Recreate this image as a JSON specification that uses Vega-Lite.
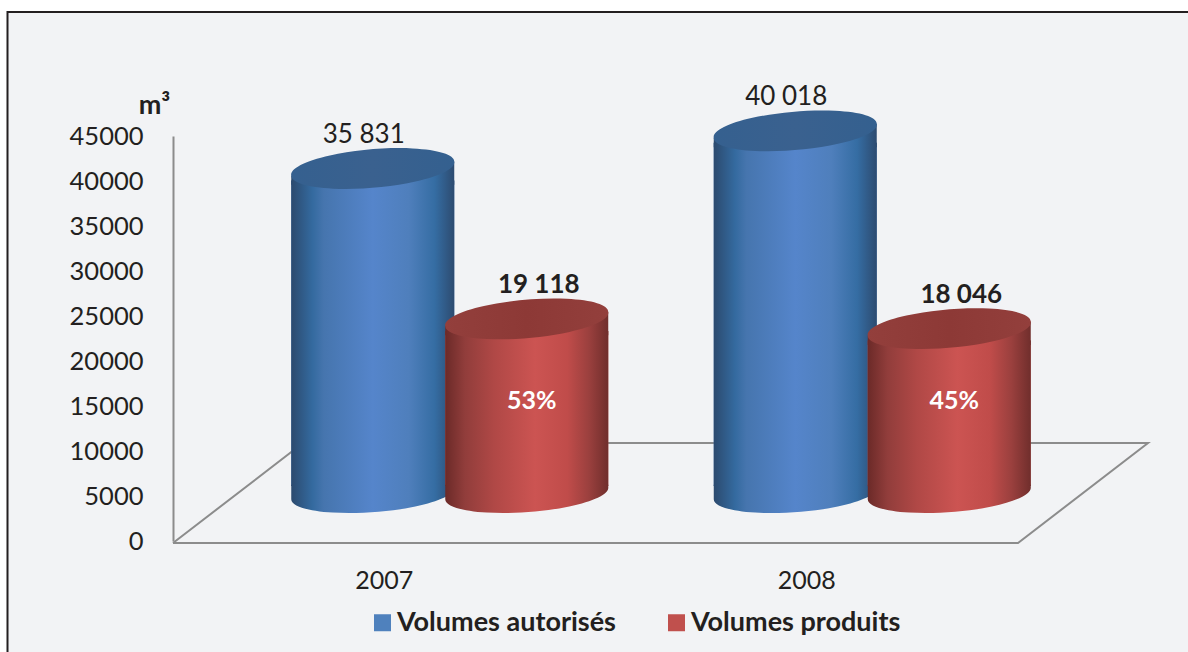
{
"$schema":"https://vega.github.io/schema/vega-lite/v6.json",
"width":845,"height":405,
"autosize":{"type":"none"},
"padding":{"left":173,"top":136,"right":170,"bottom":111},
"background":"#ffffff",
"config":{"font":"Lato","view":{"stroke":null}},
"datasets":{
 "rows":[
  {"year":"2007","series":"Volumes autorisés","value":35831,"label":"35 831"},
  {"year":"2007","series":"Volumes produits","value":19118,"label":"19 118","pct":"53%"},
  {"year":"2008","series":"Volumes autorisés","value":40018,"label":"40 018"},
  {"year":"2008","series":"Volumes produits","value":18046,"label":"18 046","pct":"45%"}
 ],
 "floor":[
  {"fx":0,"fy":-220,"o":1},{"fx":130,"fy":10880,"o":2},{"fx":975,"fy":10880,"o":3},{"fx":845,"fy":-220,"o":4},{"fx":0,"fy":-220,"o":5}
 ]
},
"layer":[
 {"layer":[
  {"data":{"values":[{"k":"panel"}]},
   "mark":{"type":"rect","fill":"#f2f3f5","stroke":"#231f20","strokeWidth":2},
   "encoding":{
    "x":{"datum":-165.5,"type":"quantitative","scale":{"domain":[0,845]},"axis":null},
    "x2":{"datum":1200},
    "y":{"datum":58780,"type":"quantitative","scale":{"domain":[0,45000],"nice":false},"title":"m³"},
    "y2":{"datum":-20000}}},
  {"data":{"name":"floor"},
   "mark":{"type":"line","stroke":"#8c8c8c","strokeWidth":2},
   "encoding":{
    "x":{"field":"fx","type":"quantitative","scale":{"domain":[0,845]},"axis":null},
    "y":{"field":"fy","type":"quantitative","scale":{"domain":[0,45000],"nice":false},"title":"m³"},
    "order":{"field":"o"}}}
 ]},
 {"data":{"name":"rows"},
  "encoding":{
   "x":{"field":"year","type":"nominal","scale":{"paddingInner":0,"paddingOuter":0},
     "axis":{"orient":"bottom","zindex":1,"title":null,"domain":false,"ticks":false,"labelAngle":0,"labelFontSize":25,"labelColor":"#231f20","labelPadding":27,"grid":false}},
   "y":{"field":"value","type":"quantitative","scale":{"domain":[0,45000],"nice":false},
     "axis":{"zindex":1,"title":"m³","titleAngle":0,"titleFontSize":27,"titleFontWeight":"bold","titleColor":"#231f20","titleX":-19,"titleY":-17,"titleAlign":"center","values":[0,5000,10000,15000,20000,25000,30000,35000,40000,45000],"format":"d","grid":false,"ticks":false,"domainColor":"#8c8c8c","domainWidth":2,"labelFontSize":25.5,"labelColor":"#231f20","labelPadding":30}}
  },
  "layer":[
   {"transform":[{"filter":"datum.series === 'Volumes autorisés'"}],
    "layer":[
     {"mark":{"type":"bar","width":163,"xOffset":-11.5,"yOffset":-38},
      "encoding":{"y2":{"datum":6110},"color":{"field":"series","type":"nominal","scale":{"domain":["Volumes autorisés","Volumes produits"],"range":["#4f81bd","#c0504d"]},
        "legend":{"title":null,"orient":"none","direction":"horizontal","columns":2,"legendX":196,"legendY":473,"symbolType":"square","symbolSize":289,"symbolStrokeWidth":0,"labelFontSize":27,"labelFontWeight":"bold","labelColor":"#231f20","labelOffset":1,"columnPadding":47,"labelLimit":400}}}},
     {"mark":{"type":"bar","width":163,"xOffset":-11.5,"yOffset":-38,
       "fill":{"gradient":"linear","x1":0,"x2":1,"y1":0,"y2":0,"stops":[{"offset":0,"color":"#2c4a6e"},{"offset":0.13,"color":"#346a9f"},{"offset":0.2,"color":"#4675ae"},{"offset":0.5,"color":"#5585cb"},{"offset":0.72,"color":"#4f7fbc"},{"offset":0.88,"color":"#356da3"},{"offset":1,"color":"#2d4b70"}]}},
      "encoding":{"y2":{"datum":6110}}},
     {"mark":{"type":"point","filled":true,"opacity":1,"size":26569,"xOffset":-11.5,"yOffset":-48,
       "shape":"M-1,-0.1 L1,-0.1 L1,-0.074 A1.003,0.23,-4.23,1,1,-1,0.074 Z",
       "fill":{"gradient":"linear","x1":0,"x2":1,"y1":0,"y2":0,"stops":[{"offset":0,"color":"#2c4a6e"},{"offset":0.13,"color":"#346a9f"},{"offset":0.2,"color":"#4675ae"},{"offset":0.5,"color":"#5585cb"},{"offset":0.72,"color":"#4f7fbc"},{"offset":0.88,"color":"#356da3"},{"offset":1,"color":"#2d4b70"}]}},
      "encoding":{"y":{"datum":0,"type":"quantitative"}}},
     {"mark":{"type":"point","filled":true,"opacity":1,"size":26569,"xOffset":-11.5,"yOffset":-50,
       "shape":"M-1,0.086 L1,-0.086 L1,0.2 L-1,0.2 Z",
       "fill":{"gradient":"linear","x1":0,"x2":1,"y1":0,"y2":0,"stops":[{"offset":0,"color":"#2c4a6e"},{"offset":0.13,"color":"#346a9f"},{"offset":0.2,"color":"#4675ae"},{"offset":0.5,"color":"#5585cb"},{"offset":0.72,"color":"#4f7fbc"},{"offset":0.88,"color":"#356da3"},{"offset":1,"color":"#2d4b70"}]}}},
     {"mark":{"type":"point","filled":true,"opacity":1,"size":26569,"xOffset":-11.5,"yOffset":-50,
       "shape":"M-1,0.086 A1.004,0.23,-4.9,1,1,1,-0.086 A1.004,0.23,-4.9,1,1,-1,0.086 Z",
       "fill":{"gradient":"linear","x1":0,"x2":1,"y1":0,"y2":0,"stops":[{"offset":0,"color":"#35608f"},{"offset":0.5,"color":"#3a618f"},{"offset":1,"color":"#34608f"}]}}},
     {"mark":{"type":"text","fontSize":26,"color":"#231f20","xOffset":-20.5,"yOffset":-84,"baseline":"middle"},
      "encoding":{"text":{"field":"label","type":"nominal"}}}
    ]},
   {"transform":[{"filter":"datum.series === 'Volumes produits'"}],
    "layer":[
     {"mark":{"type":"bar","width":163,"xOffset":142.5,"yOffset":-38},
      "encoding":{"y2":{"datum":6110},"color":{"field":"series","type":"nominal"}}},
     {"mark":{"type":"bar","width":163,"xOffset":142.5,"yOffset":-38,
       "fill":{"gradient":"linear","x1":0,"x2":1,"y1":0,"y2":0,"stops":[{"offset":0,"color":"#6b2a28"},{"offset":0.12,"color":"#913d3b"},{"offset":0.3,"color":"#b04846"},{"offset":0.55,"color":"#cc5452"},{"offset":0.75,"color":"#c04c4a"},{"offset":0.88,"color":"#9b403e"},{"offset":1,"color":"#702e2c"}]}},
      "encoding":{"y2":{"datum":6110}}},
     {"mark":{"type":"point","filled":true,"opacity":1,"size":26569,"xOffset":142.5,"yOffset":-48,
       "shape":"M-1,-0.1 L1,-0.1 L1,-0.074 A1.003,0.23,-4.23,1,1,-1,0.074 Z",
       "fill":{"gradient":"linear","x1":0,"x2":1,"y1":0,"y2":0,"stops":[{"offset":0,"color":"#6b2a28"},{"offset":0.12,"color":"#913d3b"},{"offset":0.3,"color":"#b04846"},{"offset":0.55,"color":"#cc5452"},{"offset":0.75,"color":"#c04c4a"},{"offset":0.88,"color":"#9b403e"},{"offset":1,"color":"#702e2c"}]}},
      "encoding":{"y":{"datum":0,"type":"quantitative"}}},
     {"mark":{"type":"point","filled":true,"opacity":1,"size":26569,"xOffset":142.5,"yOffset":-50,
       "shape":"M-1,0.086 L1,-0.086 L1,0.2 L-1,0.2 Z",
       "fill":{"gradient":"linear","x1":0,"x2":1,"y1":0,"y2":0,"stops":[{"offset":0,"color":"#6b2a28"},{"offset":0.12,"color":"#913d3b"},{"offset":0.3,"color":"#b04846"},{"offset":0.55,"color":"#cc5452"},{"offset":0.75,"color":"#c04c4a"},{"offset":0.88,"color":"#9b403e"},{"offset":1,"color":"#702e2c"}]}}},
     {"mark":{"type":"point","filled":true,"opacity":1,"size":26569,"xOffset":142.5,"yOffset":-50,
       "shape":"M-1,0.086 A1.004,0.23,-4.9,1,1,1,-0.086 A1.004,0.23,-4.9,1,1,-1,0.086 Z",
       "fill":{"gradient":"linear","x1":0,"x2":1,"y1":0,"y2":0,"stops":[{"offset":0,"color":"#933f3c"},{"offset":0.5,"color":"#8d3936"},{"offset":1,"color":"#933f3c"}]}}},
     {"mark":{"type":"text","fontSize":26,"fontWeight":"bold","color":"#231f20","xOffset":154.5,"yOffset":-84,"baseline":"middle"},
      "encoding":{"text":{"field":"label","type":"nominal"}}},
     {"mark":{"type":"text","fontSize":25,"fontWeight":"bold","color":"#ffffff","xOffset":147.5,"baseline":"middle"},
      "encoding":{"y":{"datum":15600,"type":"quantitative"},"text":{"field":"pct","type":"nominal"}}}
    ]}
  ]}
],
"resolve":{"scale":{"x":"independent"},"axis":{"x":"independent"}}
}
